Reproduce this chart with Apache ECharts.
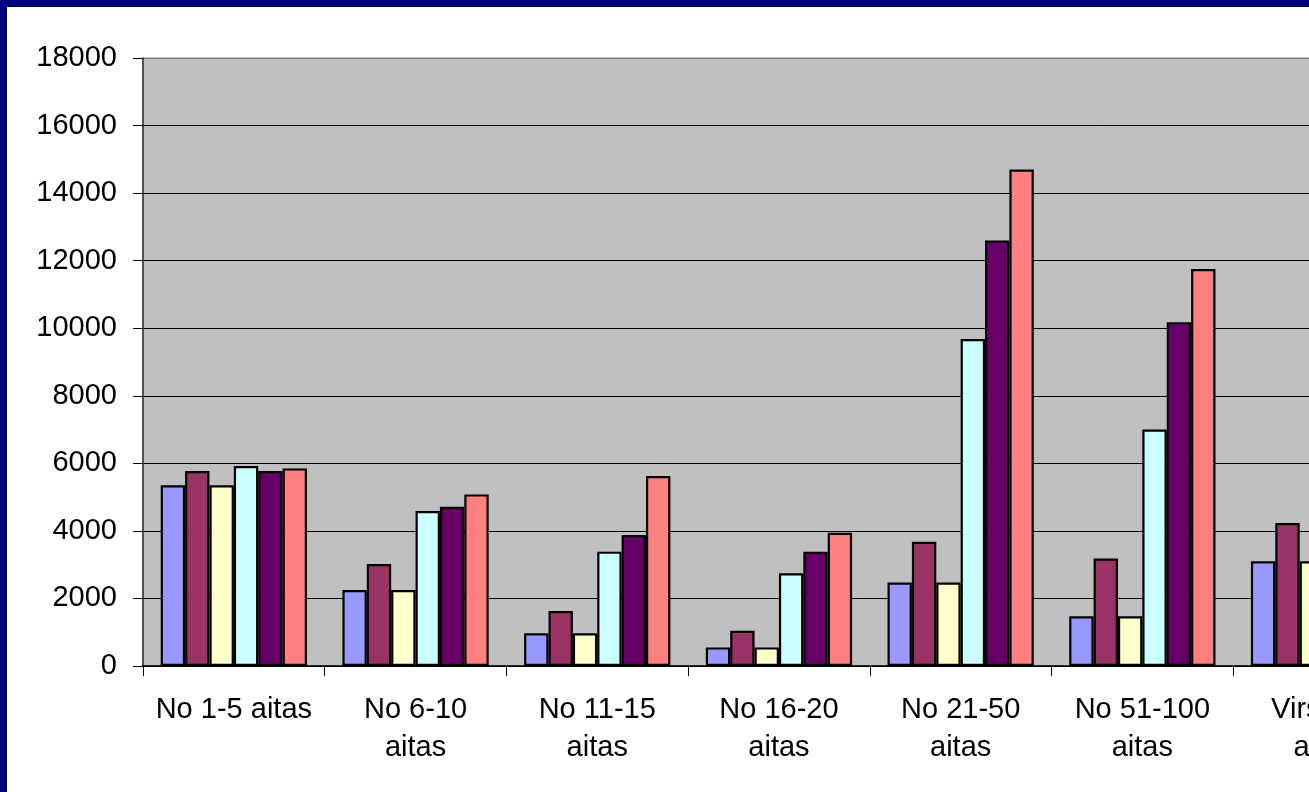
<!DOCTYPE html>
<html>
<head>
<meta charset="utf-8">
<script src="https://cdn.jsdelivr.net/npm/echarts@6/dist/echarts.min.js"></script>
<style>
  html, body { margin: 0; padding: 0; width: 1309px; height: 792px; overflow: hidden; background: #000080; }
  #frame { position: absolute; left: 6px; top: 6px; width: 1600px; height: 900px; background: #ffffff;
           border-left: 1px solid #000022; border-top: 1px solid #000022; }
  #chart { position: absolute; left: 0; top: 0; width: 1600px; height: 792px; }
</style>
</head>
<body>
<div id="frame"></div>
<div id="chart"></div>
<script>
// Categories (x axis)
const categories = ['No 1-5 aitas', 'No 6-10\naitas', 'No 11-15\naitas', 'No 16-20\naitas', 'No 21-50\naitas', 'No 51-100\naitas', 'Virs 100\naitas'];
// Y axis ticks
const yTicks = [0, 2000, 4000, 6000, 8000, 10000, 12000, 14000, 16000, 18000];
// Series values (last category's series 4-6 lie outside the visible picture; estimated)
const series1 = [5350, 2250, 970, 550, 2470, 1470, 3100];
const series2 = [5770, 3020, 1630, 1045, 3680, 3180, 4230];
const series3 = [5350, 2250, 970, 550, 2470, 1470, 3100];
const series4 = [5920, 4590, 3385, 2745, 9680, 7000, 6500];
const series5 = [5770, 4715, 3880, 3385, 12600, 10180, 8600];
const series6 = [5850, 5080, 5625, 3945, 14700, 11750, 9800];
const seriesNames = ['Series 1', 'Series 2', 'Series 3', 'Series 4', 'Series 5', 'Series 6'];
const seriesColors = ['#9999FF', '#993366', '#FFFFCC', '#CCFFFF', '#660066', '#FF8080'];

const allData = [series1, series2, series3, series4, series5, series6];

const chart = echarts.init(document.getElementById('chart'), null, { renderer: 'canvas' });
const font = 'Liberation Sans, Arial, sans-serif';
const catW = 181.7;

chart.setOption({
  animation: false,
  textStyle: { fontFamily: font },
  grid: {
    left: 143, top: 58, width: catW * categories.length, height: 608,
    show: true, backgroundColor: '#C0C0C0', borderColor: '#808080', borderWidth: 1
  },
  xAxis: {
    type: 'category',
    data: categories,
    boundaryGap: true,
    axisLine: { show: true, lineStyle: { color: '#000000', width: 1.5 } },
    axisTick: { show: true, length: 10, lineStyle: { color: '#000000', width: 1 } },
    axisLabel: { color: '#000000', fontSize: 29, fontFamily: font, lineHeight: 38, margin: 25, interval: 0 },
    splitLine: { show: false }
  },
  yAxis: {
    type: 'value',
    min: yTicks[0], max: yTicks[yTicks.length - 1], interval: 2000,
    axisLine: { show: true, lineStyle: { color: '#333333', width: 1.5 } },
    axisTick: { show: true, length: 10, lineStyle: { color: '#000000', width: 1 } },
    axisLabel: { color: '#000000', fontSize: 29, fontFamily: font, margin: 26, formatter: v => String(v) },
    splitLine: { show: true, lineStyle: { color: ['#000000','#000000','#000000','#000000','#000000','#000000','#000000','#000000','#000000','#808080'], width: 1 } }
  },
  series: allData.map((d, i) => ({
    name: seriesNames[i],
    type: 'bar',
    data: d,
    barGap: '0%',
    barCategoryGap: '19.5%',
    itemStyle: { color: seriesColors[i], borderColor: '#000000', borderWidth: 2.2 }
  }))
});
</script>
</body>
</html>
